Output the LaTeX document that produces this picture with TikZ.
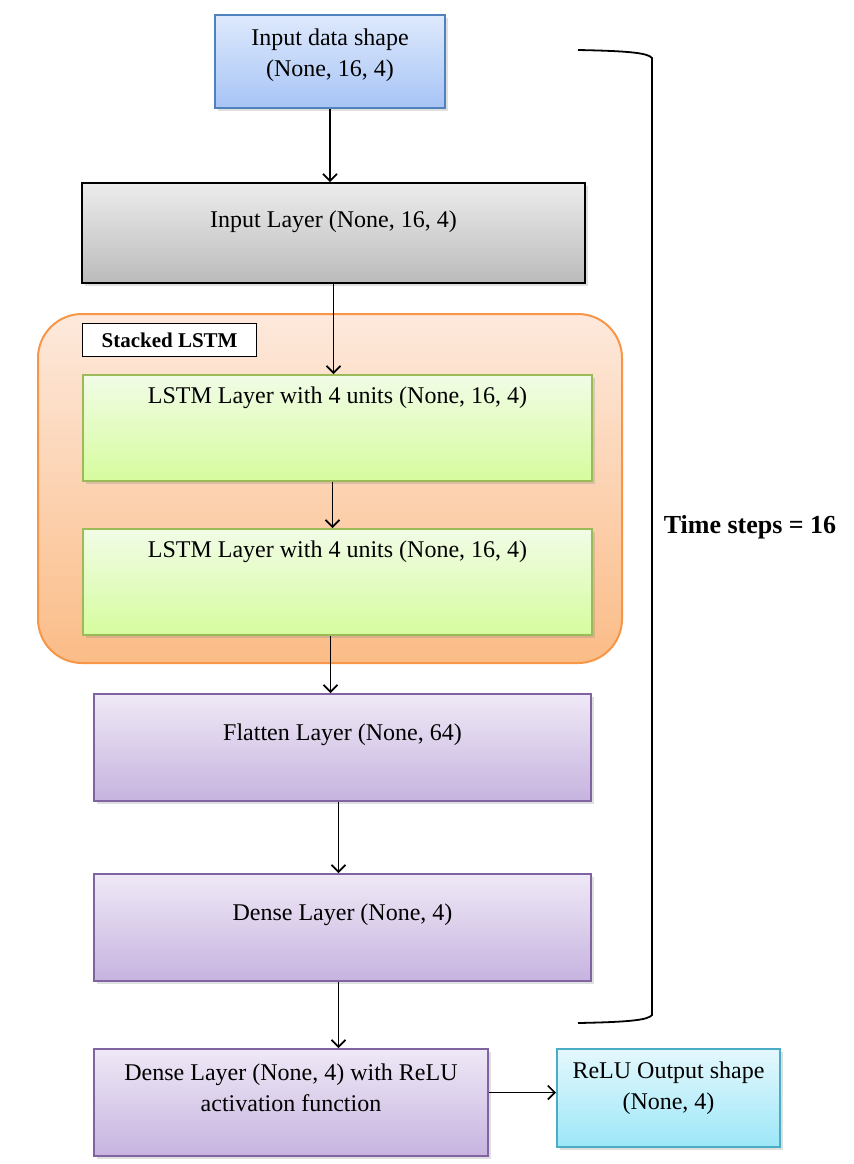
\documentclass[tikz,border=0pt]{standalone}
\usepackage{fontspec}
\setmainfont{Liberation Serif}
\usepackage{tikz}
\usetikzlibrary{
  arrows.meta,
  shadows
}
\definecolor{blueline}{RGB}{79,129,189}
\definecolor{bluetop}{RGB}{222,233,252}
\definecolor{bluebot}{RGB}{167,196,246}
\definecolor{graytop}{RGB}{236,236,236}
\definecolor{graybot}{RGB}{187,187,187}
\definecolor{orangeline}{RGB}{247,150,70}
\definecolor{orangetop}{RGB}{253,233,220}
\definecolor{orangebot}{RGB}{251,188,135}
\definecolor{greenline}{RGB}{155,187,89}
\definecolor{greentop}{RGB}{241,252,230}
\definecolor{greenbot}{RGB}{214,252,158}
\definecolor{purpleline}{RGB}{128,100,162}
\definecolor{purpletop}{RGB}{239,233,246}
\definecolor{purplebot}{RGB}{198,179,223}
\definecolor{cyanline}{RGB}{75,172,198}
\definecolor{cyantop}{RGB}{228,248,253}
\definecolor{cyanbot}{RGB}{157,231,248}
\tikzset{layer/.style={
  draw, line width=1pt,
  anchor=north west,
  inner xsep=0pt, inner ysep=0pt,
  font=\fontsize{12pt}{15.5pt}\selectfont,
  drop shadow={shadow xshift=1.5pt, shadow yshift=-1.5pt, opacity=0.25}
}}
\tikzset{oneline/.style 2 args={
  text height=#1, text depth=#2
}}
\tikzset{arr/.style={
  -{Straight Barb[length=3.5pt,width=7pt]},
  line width=0.85pt
}}
\begin{document}
\begin{tikzpicture}[x=0.5pt,y=-0.5pt]
    \useasboundingbox (0,0) rectangle (854,1164);
    % stacked lstm container
    \node (stack) [draw=orangeline, line width=1pt, rounded corners=22pt,
      top color=orangetop, bottom color=orangebot, anchor=north west,
      minimum width=292pt, minimum height=174.5pt, inner sep=0pt] at (37,313) {};
    \node (stacklbl) [draw, fill=white, line width=0.6pt, anchor=north west,
      minimum width=87pt, minimum height=16.5pt, inner sep=0pt,
      font=\fontsize{10.5pt}{12pt}\selectfont\bfseries] at (82,323) {Stacked LSTM};
    % layers
    \node (shape) [layer, draw=blueline, top color=bluetop, bottom color=bluebot,
      align=center, oneline={30.5pt}{16pt}, minimum width=115pt] at (214,14)
      {Input data shape\\(None, 16, 4)};
    \node (inl) [layer, top color=graytop, bottom color=graybot, oneline={22pt}{28pt},
      minimum width=251.5pt] at (81,182) {Input Layer (None, 16, 4)};
    \node (lstma) [layer, draw=greenline, top color=greentop, bottom color=greenbot,
      oneline={14pt}{39pt}, minimum width=254.5pt] at (82,374)
      {LSTM Layer with 4 units (None, 16, 4)};
    \node (lstmb) [layer, draw=greenline, top color=greentop, bottom color=greenbot,
      oneline={14pt}{39pt}, minimum width=254.5pt] at (82,528)
      {LSTM Layer with 4 units (None, 16, 4)};
    \node (flat) [layer, draw=purpleline, top color=purpletop, bottom color=purplebot,
      oneline={23pt}{30.5pt}, minimum width=248.5pt] at (93,693)
      {Flatten Layer (None, 64)};
    \node (dense) [layer, draw=purpleline, top color=purpletop, bottom color=purplebot,
      oneline={23pt}{30.5pt}, minimum width=248.5pt] at (93,873)
      {Dense Layer (None, 4)};
    \node (relu) [layer, draw=purpleline, top color=purpletop, bottom color=purplebot,
      align=center, oneline={31pt}{22.5pt}, minimum width=197pt] at (93,1048)
      {Dense Layer (None, 4) with ReLU\\activation function};
    \node (out) [layer, draw=cyanline, top color=cyantop, bottom color=cyanbot,
      align=center, oneline={30pt}{19pt}, minimum width=111.5pt] at (556,1048)
      {ReLU Output shape\\(None, 4)};
    % connectors
    \draw [arr] (shape.south) -- (shape.south |- inl.north);
    \draw [arr] (inl.south) -- (inl.south |- lstma.north);
    \draw [arr] ([xshift=-2.5pt]lstma.south) -- ([xshift=-2.5pt]lstma.south |- lstmb.north);
    \draw [arr] ([xshift=-3.5pt]lstmb.south) -- ([xshift=-3.5pt]lstmb.south |- flat.north);
    \draw [arr] ([xshift=-2pt]flat.south) -- ([xshift=-2pt]flat.south |- dense.north);
    \draw [arr] ([xshift=-2pt]dense.south) -- ([xshift=-2pt]dense.south |- relu.north);
    \draw [arr] ([yshift=5pt]relu.east) -- ([yshift=5pt]relu.east -| out.west);
    % time steps bracket
    \coordinate (brtop) at (578,50);
    \coordinate (brbot) at (578,1023);
    \draw [line width=0.9pt] (brtop) .. controls (630,51) and (648,53) .. (652,58)
      -- (652,1015) .. controls (648,1020) and (630,1022) .. (brbot);
    \node (steps) [font=\fontsize{13pt}{15pt}\selectfont\bfseries] at (750,527) {Time steps = 16};
\end{tikzpicture}
\end{document}
